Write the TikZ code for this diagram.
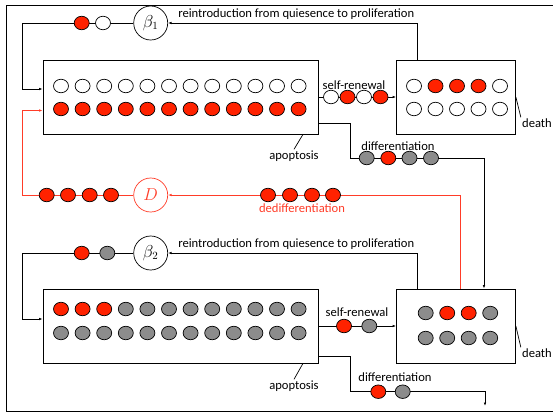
\documentclass[tikz,border=0pt]{standalone}
\usepackage{fontspec}
\setmainfont{Carlito}
\usetikzlibrary{shapes, shapes.geometric, arrows.meta, positioning}

\definecolor{cellred}{RGB}{255,34,0}
\definecolor{cellgray}{RGB}{140,140,140}
\definecolor{dedred}{RGB}{255,60,40}

\begin{document}
\begin{tikzpicture}[x=1pt, y=-1pt,
  line width=0.7pt,
  >={Latex[length=3.5pt,width=2.5pt]},
  font=\fontsize{12.6}{14}\selectfont,
  pool/.style={draw, rectangle, inner sep=0pt, minimum height=74pt},
  cell/.style={draw, ellipse, minimum width=15pt, minimum height=13.5pt, inner sep=0pt},
  wcell/.style={cell, fill=white},
  rcell/.style={cell, fill=cellred},
  gcell/.style={cell, fill=cellgray},
  rate/.style={draw, circle, minimum size=34pt, inner sep=0pt, fill=white,
    font=\fontsize{16}{18}\selectfont},
  lbl/.style={inner sep=1pt}
  ]

  \useasboundingbox (0,0) rectangle (553,415);
  \draw (553,5) -| (6,411) -- (553,411);

  % compartments
  \node[pool, minimum width=275pt] (pool1) at (180.5,97) {};
  \node[pool, minimum width=119pt] (pool2) at (456,97) {};
  \node[pool, minimum width=275pt] (pool3) at (180.5,326) {};
  \node[pool, minimum width=119pt] (pool4) at (456,326) {};

  \foreach \i in {0,...,11} {
    \node[wcell] (c1a\i) at (61+21.6*\i,86) {};
    \node[rcell] (c1b\i) at (61+21.6*\i,109) {};
  }
  \foreach \c [count=\i from 0] in {white,cellred,cellred,cellred,white} {
    \node[cell, fill=\c] (c2a\i) at (414+21.5*\i,86) {};
    \node[wcell] (c2b\i) at (414+21.5*\i,109) {};
  }
  \foreach \i in {0,...,11} {
    \ifnum\i<3
      \node[rcell] (c3a\i) at (61+21.6*\i,309) {};
    \else
      \node[gcell] (c3a\i) at (61+21.6*\i,309) {};
    \fi
    \node[gcell] (c3b\i) at (61+21.6*\i,333) {};
  }
  \foreach \c [count=\i from 0] in {cellgray,cellred,cellred,cellgray} {
    \node[cell, fill=\c] (c4a\i) at (425.7+21.5*\i,313) {};
    \node[gcell] (c4b\i) at (425.7+21.5*\i,338) {};
  }

  % rates
  \node[rate] (beta1) at (150.7,23) {$\beta_1$};
  \node[rate, draw=dedred, text=dedred] (D) at (150.7,195) {$D$};
  \node[rate] (beta2) at (150.7,253) {$\beta_2$};

  % upper system
  \draw[->] ([xshift=-38.5pt]pool2.north) |- (beta1.east)
    node[lbl, pos=0.5, anchor=south east, inner sep=3pt] (reint1) {reintroduction from quiesence to proliferation};
  \draw[->] (beta1.west) -| ([xshift=-20.3pt,yshift=8pt]pool1.west) -- ([yshift=8pt]pool1.west);
  \node[rcell] at (81.7,23) {};
  \node[wcell] at (103,23) {};

  \draw[->] (pool1.east) -- (pool2.west);
  \node[lbl] (self1) at (354,85.5) {self-renewal};
  \foreach \x/\s in {331/wcell,347.5/rcell,364/wcell,380.5/rcell}
    \node[\s] at (\x,97) {};

  \draw[->] ([yshift=-26pt]pool1.east) -| (350,158) -| ([xshift=28pt]pool4.north);
  \node[lbl] (diff1) at (398,146.5) {differentiation};
  \foreach \x/\s in {366.7/gcell,388.3/rcell,409.5/gcell,431/gcell}
    \node[\s] at (\x,158) {};

  \node[lbl] (apop1) at (294,156) {apoptosis};
  \draw ([xshift=9pt]apop1.north |- pool1.south) -- (apop1.north);
  \node[lbl] (death1) at (537,123) {death};
  \draw (pool2.east) -- (death1.north west);

  % dedifferentiation
  \draw[dedred, ->] ([xshift=4pt]pool4.north) |- (D.east);
  \draw[dedred, ->] (D.west) -| ([xshift=-20.3pt,yshift=-13.5pt]pool1.west) -- ([yshift=-13.5pt]pool1.west);
  \foreach \x in {46.7,68,89.7,111,268,290,312,333}
    \node[rcell] at (\x,195) {};
  \node[lbl, text=dedred] (dediff) at (302,208) {dedifferentiation};

  % lower system
  \draw[->] ([xshift=-38.5pt]pool4.north) |- (beta2.east)
    node[lbl, pos=0.5, anchor=south east, inner sep=3pt] (reint2) {reintroduction from quiesence to proliferation};
  \draw[->] (beta2.west) -| ([xshift=-20.3pt,yshift=7pt]pool3.west) -- ([yshift=7pt]pool3.west);
  \node[rcell] at (81.7,253) {};
  \node[gcell] at (107.3,253) {};

  \draw[->] (pool3.east) -- (pool4.west);
  \node[lbl] (self2) at (357,312) {self-renewal};
  \node[rcell] at (344,326) {};
  \node[gcell] at (369.3,326) {};

  \coordinate (out3) at (485,406);
  \draw[->] ([yshift=-30pt]pool3.east) -| (350,391.7) -| (out3);
  \node[lbl] (diff2) at (395,377.5) {differentiation};
  \node[rcell] at (378.3,391.7) {};
  \node[gcell] at (402.7,391.7) {};

  \node[lbl] (apop2) at (294,386) {apoptosis};
  \draw ([xshift=9pt]apop2.north |- pool3.south) -- (apop2.north);
  \node[lbl] (death2) at (537,353) {death};
  \draw (pool4.east) -- (death2.north west);
\end{tikzpicture}
\end{document}
